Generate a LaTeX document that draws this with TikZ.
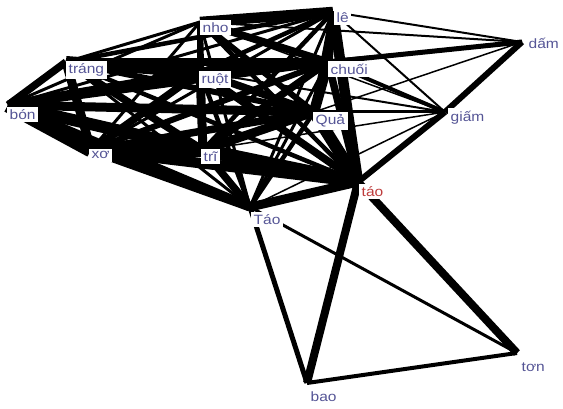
\documentclass[tikz,border=0pt]{standalone}
\usepackage{fontspec}
\setmainfont{Liberation Sans}[FakeStretch=1.15]
\definecolor{lblblue}{RGB}{85,85,150}
\definecolor{lblred}{RGB}{190,60,60}
\begin{document}
\begin{tikzpicture}[x=1pt,y=-1pt,
  lbl/.style={font=\fontsize{13.5}{14}\selectfont, text=lblblue, fill=white, inner sep=2.5pt, anchor=north west},
  edge/.style={line width=#1, line join=round}]
\useasboundingbox (0,0) rectangle (563,409);
% vertices
\coordinate (nho) at (200,22);
\coordinate (le) at (333,12);
\coordinate (dam) at (522,42);
\coordinate (trang) at (66,62);
\coordinate (ruot) at (200,72);
\coordinate (chuoi) at (328,62);
\coordinate (bon) at (8,105);
\coordinate (qua) at (314,112);
\coordinate (giam) at (445,112);
\coordinate (xo) at (91,150);
\coordinate (tri) at (203,150);
\coordinate (taor) at (358,182);
\coordinate (Tao) at (250,207);
\coordinate (bao) at (307,383);
\coordinate (ton) at (517,353);
% connectors inside the dense cluster
\foreach \a/\b/\w in {
 nho/le/7, nho/trang/2, nho/bon/2, nho/ruot/4, nho/chuoi/5, nho/qua/4, nho/xo/2, nho/tri/4, nho/taor/3, nho/Tao/2,
 le/trang/3, le/ruot/3, le/chuoi/6, le/qua/4, le/taor/7, le/tri/3, le/xo/2, le/Tao/2, le/bon/2,
 trang/bon/5, trang/ruot/8, trang/chuoi/5, trang/qua/4, trang/xo/6, trang/tri/5, trang/taor/3, trang/Tao/2,
 ruot/bon/6, ruot/chuoi/6, ruot/qua/5, ruot/xo/5, ruot/tri/6, ruot/taor/5, ruot/Tao/3,
 chuoi/bon/5, chuoi/qua/7, chuoi/xo/4, chuoi/tri/5, chuoi/taor/5, chuoi/Tao/2,
 bon/qua/6, bon/xo/10, bon/tri/8, bon/taor/6, bon/Tao/6,
 qua/xo/5, qua/tri/6, qua/taor/8, qua/Tao/3,
 xo/tri/9, xo/taor/7, xo/Tao/6,
 tri/taor/9, tri/Tao/5, taor/Tao/6}
 \draw[edge={1.5*\w pt}] (\a) -- (\b);
% outer connectors
\foreach \a/\b/\w in {
 dam/le/2, dam/nho/2, dam/chuoi/5, dam/ruot/1.5, dam/giam/6, dam/qua/1.5,
 giam/le/2, giam/chuoi/4, giam/qua/3, giam/taor/6, giam/ruot/2, giam/tri/1.5, giam/nho/1.5, giam/Tao/1.5,
 taor/bao/8, taor/ton/8, Tao/bao/5, Tao/ton/3, bao/ton/4}
 \draw[edge=\w pt] (\a) -- (\b);
% labels
\node[lbl] (Lnho) at (200,20) {nho};
\node[lbl] (Lle) at (334,10) {lê};
\node[lbl] (Ldam) at (526,35) {dấm};
\node[lbl] (Ltrang) at (66,61) {tráng};
\node[lbl] (Lruot) at (199,71) {ruột};
\node[lbl] (Lchuoi) at (328,61) {chuối};
\node[lbl] (Lbon) at (7,107) {bón};
\node[lbl] (Lqua) at (313,112) {Quả};
\node[lbl] (Lgiam) at (448,108) {giấm};
\node[lbl] (Lxo) at (89,149) {xơ};
\node[lbl] (Ltri) at (201,149) {trĩ};
\node[lbl, text=lblred] (Ltaor) at (359,184) {táo};
\node[lbl] (LTao) at (251,212) {Táo};
\node[lbl] (Lbao) at (308,389) {bao};
\node[lbl] (Lton) at (519,360) {tơn};
\end{tikzpicture}
\end{document}
